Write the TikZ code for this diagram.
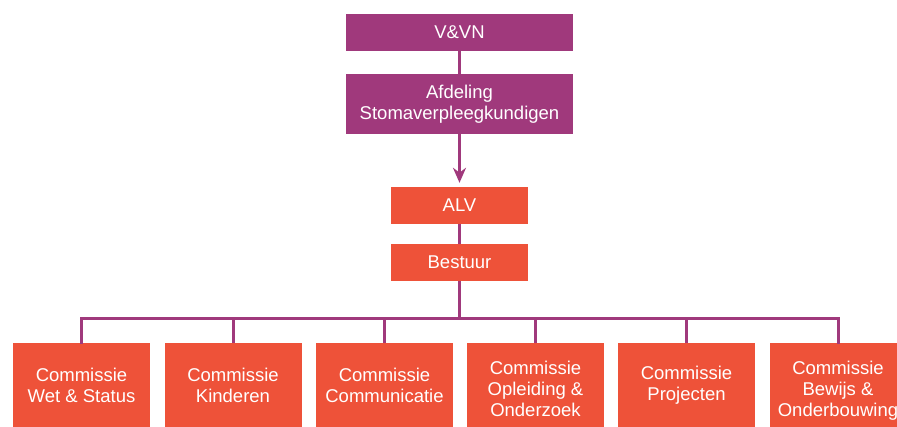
\documentclass[tikz,border=0pt]{standalone}
\usepackage{fontspec}
\setmainfont{Liberation Sans}
\usetikzlibrary{arrows.meta}
\definecolor{vvnpurple}{RGB}{160,57,124}
\definecolor{stomared}{RGB}{238,82,57}
\newcommand{\lowtext}[1]{\raisebox{-6pt}[\height][\depth]{\begin{tabular}{@{}c@{}}#1\end{tabular}}}
\begin{document}
\begin{tikzpicture}[x=1pt, y=-1pt, >={Stealth[length=15pt,width=13pt]},
  topbox/.style={fill=vvnpurple, text=white, inner sep=0pt, align=center,
    minimum width=227pt, font=\fontsize{18.5}{20.5}\selectfont},
  midbox/.style={fill=stomared, text=white, inner sep=0pt, align=center,
    minimum width=137pt, minimum height=37pt, font=\fontsize{18.5}{20.5}\selectfont},
  combox/.style={fill=stomared, text=white, inner sep=0pt, align=center,
    minimum width=137pt, minimum height=84pt, font=\fontsize{18.5}{21}\selectfont},
  link/.style={draw=vvnpurple, line width=3pt}]
\clip (0,0) rectangle (897,427);
\node[topbox, minimum height=37pt] (vvn) at (459.5,32.5) {V\&VN};
\node[topbox, minimum height=60pt] (afd) at (459.5,104) {Afdeling\\Stomaverpleegkundigen};
\node[midbox] (alv) at (459.5,205.5) {ALV};
\node[midbox] (bestuur) at (459.5,262.5) {Bestuur};
% commissies
\node[combox] (wet) at (81.5,385) {Commissie\\Wet \& Status};
\node[combox] (kind) at (233,385) {Commissie\\Kinderen};
\node[combox] (comm) at (384.5,385) {Commissie\\Communicatie};
\node[combox] (opl) at (535.5,385) {\lowtext{Commissie\\Opleiding \&\\Onderzoek}};
\node[combox] (proj) at (686.5,385) {Commissie\\Projecten};
\node[combox] (bewijs) at (838,385) {\lowtext{Commissie\\Bewijs \&\\Onderbouwing}};
\coordinate (split) at (459.5,319);
\draw[link] (vvn) -- (afd);
\draw[link, ->, shorten >=4pt] (afd) -- (alv);
\draw[link] (alv) -- (bestuur);
\draw[link] (bestuur) -- (split);
\draw[link, line cap=rect] (wet.north) |- (split) -| (bewijs.north);
\foreach \c in {kind, comm, opl, proj}
  \draw[link] (\c.north) |- (split);
\end{tikzpicture}
\end{document}
